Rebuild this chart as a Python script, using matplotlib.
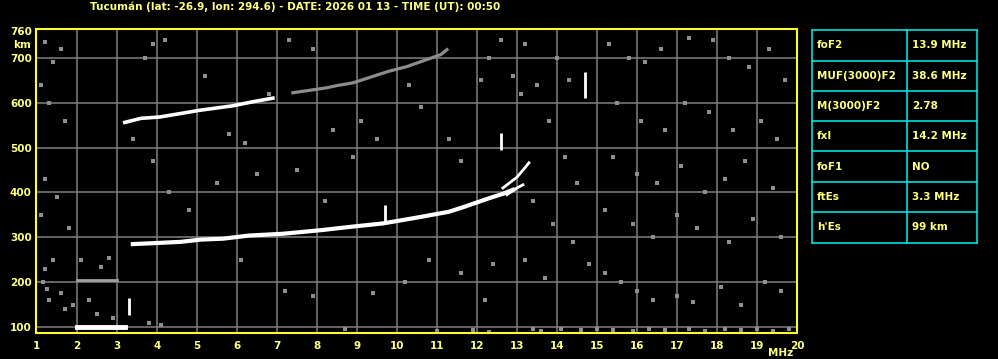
import matplotlib
matplotlib.use("Agg")
import matplotlib.pyplot as plt
import numpy as np

# --- ionogram traces (frequency MHz, virtual height km) ---
f_lower = [3.4, 3.9, 4.6, 5.1, 5.65, 6.3, 7.15, 8.1, 8.9, 9.65, 10.5, 11.3, 11.65, 12.3, 12.65, 12.9]
h_lower = [285, 287, 290, 295, 297, 304, 308, 316, 324, 331, 344, 357, 367, 387, 397, 406]

f_branch_a = [12.65, 13.0, 13.2, 13.3]
h_branch_a = [410, 434, 455, 466]
f_branch_b = [12.75, 13.0, 13.15]
h_branch_b = [395, 410, 417]

f_upper = [3.2, 3.6, 4.07, 4.74, 5.07, 5.9, 6.4, 6.9]
h_upper = [556, 565, 568, 578, 583, 593, 602, 610]
f_upper_faint = [7.4, 8.24, 8.5, 8.9, 9.8, 10.24, 11.1, 11.25]
h_upper_faint = [622, 633, 638, 644, 670, 680, 707, 718]

f_es = [2.0, 3.2]
h_es = [100, 100]
f_es2 = [2.0, 3.0]
h_es2 = [205, 205]

# short vertical spikes: freq, h_bottom, h_top
spike_f = [9.7, 12.6, 14.7, 3.3]
spike_h0 = [335, 495, 611, 127]
spike_h1 = [372, 533, 669, 165]

# scattered noise pixels
noise_f = [1.2, 1.6, 1.4, 1.1, 1.3, 1.7, 1.2, 1.5, 1.1, 1.8, 1.4, 1.2, 1.6, 1.3, 1.9, 2.3,
           2.6, 2.1, 2.8, 2.5, 2.9, 1.15, 1.25, 1.7, 3.7, 3.9, 4.2, 5.2, 5.8, 6.2, 6.8, 7.3,
           7.9, 8.4, 8.9, 8.2, 7.5, 6.5, 5.5, 4.8, 4.3, 3.9, 3.4, 6.1, 7.2, 7.9, 9.4, 10.2,
           10.8, 11.6, 12.2, 12.4, 9.1, 9.5, 10.3, 10.6, 11.3, 11.6, 12.1, 12.3, 12.6, 13.2,
           13.5, 13.8, 14.2, 14.5, 13.4, 13.9, 14.4, 13.2, 13.7, 14.8, 15.2, 15.6, 16.0, 16.4,
           17.0, 17.4, 18.1, 18.6, 19.2, 19.6, 15.3, 15.8, 16.2, 16.6, 17.3, 17.9, 18.3, 18.8,
           19.3, 19.7, 15.5, 16.1, 16.7, 17.2, 17.8, 18.4, 19.1, 19.5, 15.4, 16.0, 16.5, 17.1,
           17.7, 18.2, 18.7, 19.4, 15.2, 15.9, 16.4, 17.0, 17.5, 18.3, 18.9, 19.6, 12.9, 13.1,
           14.0, 14.3, 13.4, 13.6, 14.1, 14.6, 15.0, 15.4, 15.9, 16.3, 16.7, 17.3, 17.7, 18.2,
           18.6, 19.0, 19.4, 19.8, 12.3, 11.9, 11.0, 8.7, 4.1, 3.8]
noise_h = [735, 720, 690, 640, 600, 560, 430, 390, 350, 320, 250, 230, 175, 160, 150, 160,
           235, 250, 255, 130, 120, 200, 185, 140, 700, 730, 740, 660, 530, 510, 620, 740,
           720, 540, 480, 380, 450, 440, 420, 360, 400, 470, 520, 250, 180, 170, 175, 200,
           250, 220, 160, 240, 560, 520, 640, 590, 520, 470, 650, 700, 740, 730,
           640, 560, 480, 420, 380, 330, 290, 250, 210, 240, 220, 200, 180, 160,
           170, 155, 190, 150, 200, 180, 730, 700, 690, 720, 745, 740, 700, 680,
           720, 650, 600, 560, 540, 600, 580, 540, 560, 520, 480, 440, 420, 460,
           400, 430, 470, 410, 360, 330, 300, 350, 320, 290, 340, 300, 660, 620,
           700, 650, 95, 92, 96, 93, 97, 94, 92, 96, 93, 95, 92, 96,
           93, 95, 92, 96, 90, 93, 92, 96, 105, 110]

x_ticks = list(range(1, 21))
y_ticks = [100, 200, 300, 400, 500, 600, 700, 760]

title = "Tucumán (lat: -26.9, lon: 294.6) - DATE: 2026 01 13 - TIME (UT): 00:50"

param_names = ["foF2", "MUF(3000)F2", "M(3000)F2", "fxI", "foF1", "ftEs", "h'Es"]
param_values = ["13.9 MHz", "38.6 MHz", "2.78", "14.2 MHz", "NO", "3.3 MHz", "99 km"]

YEL = "#ffff80"
SPINE = "#ffff30"
GRID = "#808080"
CYAN = "#00e0e0"
FS = 7.5

W, H = 998, 359
fig = plt.figure(figsize=(W / 100, H / 100), dpi=100, facecolor="black")

def fx(px):
    return px / W

def fy(py):
    return 1 - py / H

ax = fig.add_axes([fx(36), fy(333), fx(797) - fx(36), fy(29) - fy(333)], facecolor="black")
ax.set_xlim(0.98, 20)
ax.set_ylim(87, 764)

for f in range(2, 20):
    ax.axvline(f, color=GRID, lw=1.1, zorder=1)
for h in range(100, 800, 100):
    ax.axhline(h, color=GRID, lw=1.1, zorder=1)

ax.plot(noise_f, noise_h, ls="none", marker="s", ms=2.6, mew=0, color="#909090", zorder=2)

ax.plot(f_upper_faint, h_upper_faint, color="#8c8c8c", lw=2.3, zorder=3)
ax.plot(f_upper, h_upper, color="white", lw=2.6, zorder=4)
ax.plot(f_lower, h_lower, color="white", lw=3.0, zorder=4)
ax.plot(f_branch_a, h_branch_a, color="white", lw=2.0, zorder=4)
ax.plot(f_branch_b, h_branch_b, color="white", lw=2.0, zorder=4)
ax.plot(f_es, h_es, color="white", lw=3.5, zorder=4)
ax.plot(f_es2, h_es2, color="#a0a0a0", lw=2.0, zorder=3)
ax.vlines(spike_f, spike_h0, spike_h1, color="white", lw=2, zorder=4)

for s in ax.spines.values():
    s.set_color(SPINE)
    s.set_linewidth(1.5)

ax.set_xticks(x_ticks)
ax.set_xticklabels([str(t) for t in x_ticks])
ax.set_yticks(y_ticks)
ax.set_yticklabels([str(t) for t in y_ticks])
ax.tick_params(length=0, colors=YEL, labelsize=FS, pad=6)
for lab in ax.get_xticklabels() + ax.get_yticklabels():
    lab.set_fontweight("bold")
ax.tick_params(axis="y", pad=3)

fig.text(fx(22), fy(45), "km", color=YEL, fontsize=FS, fontweight="bold", ha="center", va="center")
fig.text(fx(781), fy(353), "MHz", color=YEL, fontsize=FS, fontweight="bold", ha="center", va="center")
fig.text(fx(295), fy(7), title, color=YEL, fontsize=FS, fontweight="bold", ha="center", va="center")

# parameter table
tab_l, tab_r, tab_mid = 812, 977, 907
row_y = [30, 61, 91, 121, 151, 182, 212, 243]
for y in row_y:
    fig.add_artist(plt.Line2D([fx(tab_l), fx(tab_r)], [fy(y), fy(y)], color=CYAN, lw=1.2))
for x in (tab_l, tab_mid, tab_r):
    fig.add_artist(plt.Line2D([fx(x), fx(x)], [fy(row_y[0]), fy(row_y[-1])], color=CYAN, lw=1.2))
for i, (name, val) in enumerate(zip(param_names, param_values)):
    yc = (row_y[i] + row_y[i + 1]) / 2
    fig.text(fx(817), fy(yc), name, color=YEL, fontsize=FS, fontweight="bold", va="center")
    fig.text(fx(912), fy(yc), val, color=YEL, fontsize=FS, fontweight="bold", va="center")

fig.savefig("out.png", dpi=100, facecolor="black")
